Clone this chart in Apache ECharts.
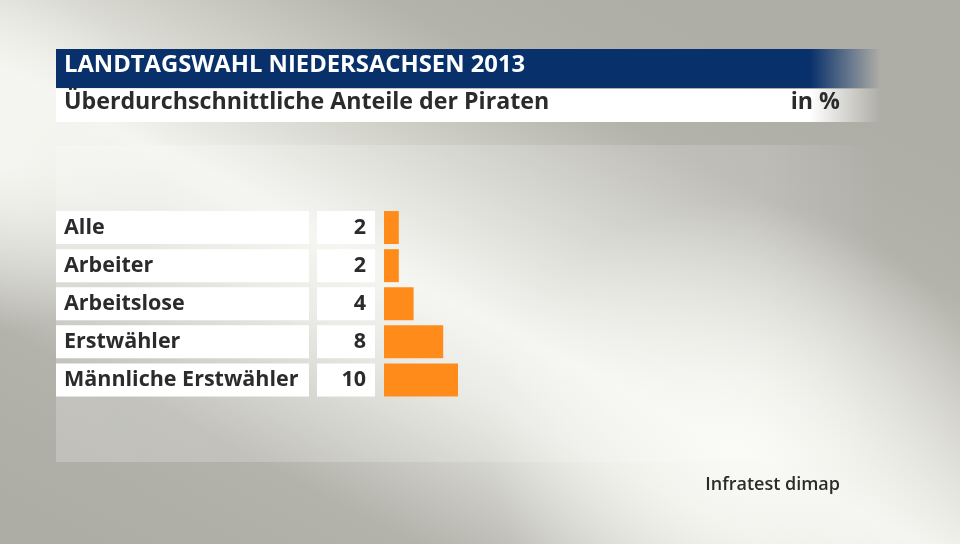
<!DOCTYPE html>
<html><head><meta charset="utf-8">
<script src="https://cdn.jsdelivr.net/npm/echarts@6/dist/echarts.min.js"></script>
<style>html,body{margin:0;padding:0;}#c{width:960px;height:544px;}</style>
</head><body><div id="c"></div>
<script>
const categories = ['Alle', 'Arbeiter', 'Arbeitslose', 'Erstwähler', 'Männliche Erstwähler'];
const values = [2, 2, 4, 8, 10];
const titleText = 'LANDTAGSWAHL NIEDERSACHSEN 2013';
const subtitleText = 'Überdurchschnittliche Anteile der Piraten';
const unitText = 'in %';
const sourceText = 'Infratest dimap';

const FONT = '"Open Sans", "Noto Sans", sans-serif';
const chart = echarts.init(document.getElementById('c'), null, {renderer: 'canvas'});

chart.setOption({
  animation: false,
  backgroundColor: '#afaea7',
  graphic: [
    // diagonal light band
    {type: 'rect', z: -10, shape: {x: 0, y: 0, width: 960, height: 544},
      style: {fill: new echarts.graphic.LinearGradient(250, 620, 580, -20, [
        {offset: 0, color: '#adaca5'}, {offset: 0.2, color: '#b3b2ab'},
        {offset: 0.42, color: '#e6e7e1'}, {offset: 0.52, color: '#f3f4ef'},
        {offset: 0.68, color: '#d4d4cd'}, {offset: 0.85, color: '#b3b2ab'}, {offset: 1, color: '#aeada6'}], true)}},
    {type: 'rect', z: -9, shape: {x: 0, y: 0, width: 960, height: 544},
      style: {fill: new echarts.graphic.RadialGradient(740, 450, 250, [
        {offset: 0, color: 'rgba(249,250,245,0.95)'}, {offset: 1, color: 'rgba(249,250,245,0)'}], true)}},
    {type: 'rect', z: -9, shape: {x: 0, y: 0, width: 960, height: 544},
      style: {fill: new echarts.graphic.RadialGradient(0, 160, 170, [
        {offset: 0, color: 'rgba(247,248,243,0.9)'}, {offset: 1, color: 'rgba(247,248,243,0)'}], true)}},
    // panel
    {type: 'rect', z: -5, shape: {x: 56, y: 145, width: 824, height: 317},
      style: {fill: new echarts.graphic.LinearGradient(0, 0, 1, 0, [
        {offset: 0, color: 'rgba(255,255,255,0.22)'}, {offset: 0.85, color: 'rgba(255,255,255,0.15)'}, {offset: 1, color: 'rgba(255,255,255,0)'}])}},
    // title bar
    {type: 'rect', z: 1, shape: {x: 56, y: 49, width: 824, height: 39},
      style: {fill: new echarts.graphic.LinearGradient(0, 0, 1, 0, [
        {offset: 0, color: '#08306b'}, {offset: 0.915, color: '#08306b'}, {offset: 1, color: 'rgba(8,48,107,0)'}])}},
    {type: 'rect', z: 1, shape: {x: 56, y: 89, width: 824, height: 33},
      style: {fill: new echarts.graphic.LinearGradient(0, 0, 1, 0, [
        {offset: 0, color: '#ffffff'}, {offset: 0.915, color: '#ffffff'}, {offset: 1, color: 'rgba(255,255,255,0)'}])}},
    {type: 'text', z: 2, left: 64, top: 53, style: {text: titleText, fill: '#ffffff', font: 'bold 23.8px ' + FONT}},
    {type: 'text', z: 2, left: 64, top: 91, style: {text: subtitleText, fill: '#2b2b2b', font: 'bold 23.2px ' + FONT}},
    {type: 'text', z: 2, right: 120, top: 91, style: {text: unitText, fill: '#2b2b2b', font: 'bold 23.2px ' + FONT}},
    {type: 'text', z: 2, right: 120, top: 476, style: {text: sourceText, fill: '#2b2b2b', font: '600 18px ' + FONT}}
  ],
  grid: {left: 384, top: 208.5, width: 148, height: 190.5, containLabel: false},
  xAxis: {type: 'value', min: 0, max: 20, show: false},
  yAxis: {
    type: 'category', data: categories, inverse: true,
    axisLine: {show: false}, axisTick: {show: false}, splitLine: {show: false},
    axisLabel: {
      margin: 9,
      formatter: function (v, i) { return '{n|' + v + '}{s|}{v|' + values[i] + '}'; },
      rich: {
        n: {width: 245, height: 33, lineHeight: 37, padding: [0, 0, 0, 8], align: 'left', backgroundColor: '#ffffff', color: '#2b2b2b', fontFamily: FONT, fontWeight: 'bold', fontSize: 21.5},
        s: {width: 8, height: 33},
        v: {width: 49, height: 33, lineHeight: 37, padding: [0, 9, 0, 0], align: 'right', backgroundColor: '#ffffff', color: '#2b2b2b', fontFamily: FONT, fontWeight: 'bold', fontSize: 21.5}
      }
    }
  },
  series: [{
    type: 'bar', data: values, barWidth: 33,
    itemStyle: {color: '#ff8c1a'}
  }]
});
</script></body></html>
